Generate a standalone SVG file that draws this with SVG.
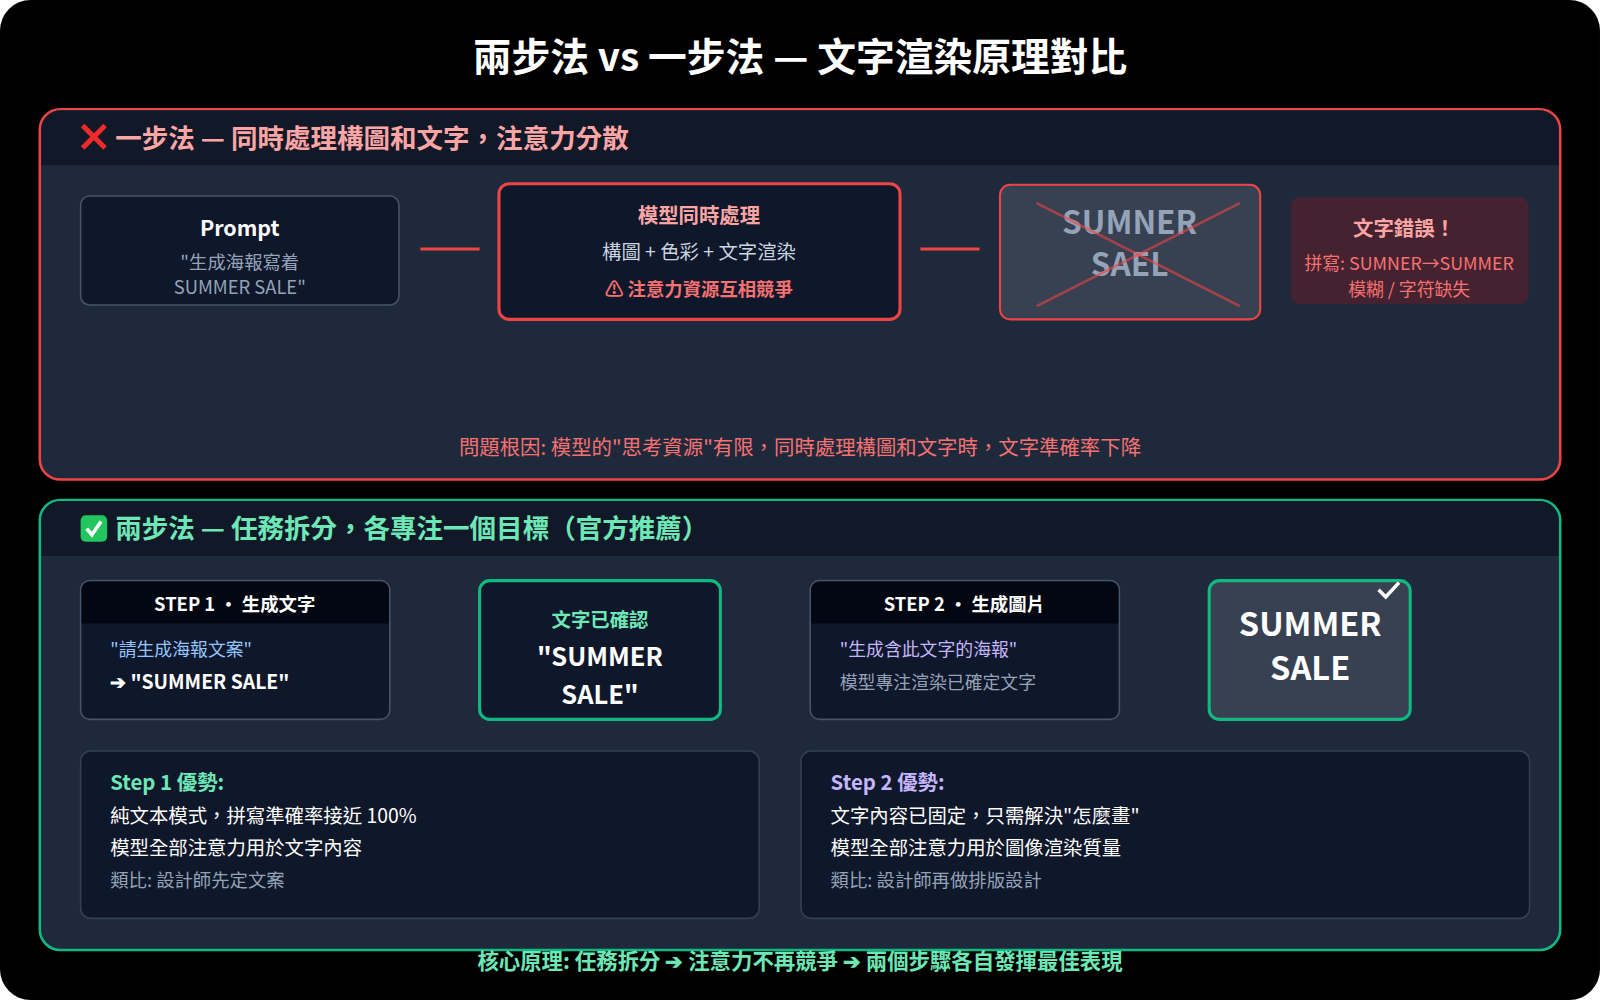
<svg xmlns="http://www.w3.org/2000/svg" width="1600" height="1000" viewBox="0 0 1600 1000">
<style>
text{font-family:"Noto Sans CJK TC","Noto Sans",sans-serif}
.b{font-weight:bold}
.c{text-anchor:middle}
.card{fill:#0f172a;stroke:#475569;stroke-width:1.5}
.g{fill:#94a3b8}
</style>
<rect x="0" y="0" width="1600" height="1000" fill="#fff"/>
<g transform="scale(1.0204)">
<rect x="0" y="0" width="1568" height="980" rx="30" fill="#000"/>
<text x="784" y="70" class="b c" font-size="38" fill="#fff">兩步法 vs 一步法 — 文字渲染原理對比</text>

<g id="panel1">
<rect x="39" y="107" width="1490" height="363" rx="20" fill="#1e293b" stroke="#ef4444" stroke-width="2.5"/>
<path d="M40.5 162 V127 a19 19 0 0 1 19 -19 H1508.5 a19 19 0 0 1 19 19 V162 Z" fill="#111827"/>
<line x1="81" y1="123" x2="103" y2="145" stroke="#ef2a2a" stroke-width="5"/>
<line x1="103" y1="123" x2="81" y2="145" stroke="#ef2a2a" stroke-width="5"/>
<text x="113" y="145" class="b" font-size="26" fill="#fca5a5">一步法 — 同時處理構圖和文字，注意力分散</text>
<text x="784" y="446" class="c" font-size="20" fill="#f87171">問題根因: 模型的"思考資源"有限，同時處理構圖和文字時，文字準確率下降</text>
</g>

<g id="connectors">
<line x1="412" y1="244" x2="470" y2="244" stroke="#ef4444" stroke-width="3"/>
<line x1="902" y1="244" x2="960" y2="244" stroke="#ef4444" stroke-width="3"/>
<line x1="402" y1="636" x2="450" y2="636" stroke="#10b981" stroke-width="3"/>
<line x1="726" y1="636" x2="773" y2="636" stroke="#10b981" stroke-width="3"/>
<line x1="1117" y1="636" x2="1165" y2="636" stroke="#10b981" stroke-width="3"/>
</g>

<g id="prompt">
<rect x="79" y="192" width="312" height="107" rx="9" class="card"/>
<text x="235" y="231" class="b c" font-size="21" fill="#fff">Prompt</text>
<text x="235" y="264" class="c g" font-size="18">"生成海報寫着</text>
<text x="235" y="288" class="c g" font-size="18">SUMMER SALE"</text>
</g>
<g id="model">
<rect x="489" y="180" width="393" height="133" rx="10" fill="#0f172a" stroke="#ef4444" stroke-width="3"/>
<text x="685" y="219" class="b c" font-size="20" fill="#fca5a5">模型同時處理</text>
<text x="685" y="254" class="c" font-size="19" fill="#cbd5e1">構圖 + 色彩 + 文字渲染</text>
<text x="685" y="290" class="b c" font-size="18" fill="#f87171">⚠ 注意力資源互相競爭</text>
</g>
<g id="wrong">
<rect x="980" y="181" width="255" height="132" rx="10" fill="#374151" stroke="#ef4444" stroke-width="2"/>
<text x="1107" y="229" class="b c" font-size="31" fill="#94a3b8">SUMNER</text>
<text x="1107" y="270" class="b c" font-size="31" fill="#94a3b8">SAEL</text>
<line x1="1016" y1="199" x2="1215" y2="300" stroke="#ef4444" stroke-width="2.5" opacity="0.6"/>
<line x1="1016" y1="300" x2="1215" y2="199" stroke="#ef4444" stroke-width="2.5" opacity="0.6"/>
</g>
<g id="error">
<rect x="1265" y="193" width="233" height="105" rx="9" fill="#45222f"/>
<text x="1376" y="231" class="b c" font-size="20" fill="#fca5a5">文字錯誤！</text>
<text x="1381" y="265" class="c" font-size="17.5" fill="#f87171">拼寫: SUMNER→SUMMER</text>
<text x="1381" y="290" class="c" font-size="17.5" fill="#f87171">模糊 / 字符缺失</text>
</g>

<g id="panel2">
<rect x="39" y="490" width="1490" height="441" rx="20" fill="#1e293b" stroke="#10b981" stroke-width="2.5"/>
<path d="M40.5 545 V510 a19 19 0 0 1 19 -19 H1508.5 a19 19 0 0 1 19 19 V545 Z" fill="#111827"/>
<rect x="79" y="505" width="26" height="26" rx="5" fill="#22c55e"/>
<polyline points="85,518 90,524 99,511" fill="none" stroke="#fff" stroke-width="3.5"/>
<text x="113" y="527" class="b" font-size="26" fill="#6ee7b7">兩步法 — 任務拆分，各專注一個目標（官方推薦）</text>
<text x="784" y="950" class="b c" font-size="21" fill="#6ee7b7">核心原理: 任務拆分 ➔ 注意力不再競爭 ➔ 兩個步驟各自發揮最佳表現</text>
</g>

<g id="step1">
<rect x="79" y="569" width="303" height="136" rx="9" class="card"/>
<path d="M80 611 V578 a8 8 0 0 1 8 -8 H373 a8 8 0 0 1 8 8 V611 Z" fill="#030712"/>
<text x="230" y="599" class="b c" font-size="18" fill="#fff">STEP 1 · 生成文字</text>
<text x="108" y="643" font-size="17.5" fill="#93c5fd">"請生成海報文案"</text>
<text x="108" y="675" class="b" font-size="19" fill="#fff">➔ "SUMMER SALE"</text>
</g>
<g id="confirmed">
<rect x="470" y="569" width="236" height="136" rx="10" fill="#0f172a" stroke="#10b981" stroke-width="3"/>
<text x="588" y="614" class="b c" font-size="19" fill="#6ee7b7">文字已確認</text>
<text x="588" y="653" class="b c" font-size="25" fill="#fff">"SUMMER</text>
<text x="588" y="690" class="b c" font-size="25" fill="#fff">SALE"</text>
</g>
<g id="step2">
<rect x="794" y="569" width="303" height="136" rx="9" class="card"/>
<path d="M795 611 V578 a8 8 0 0 1 8 -8 H1088 a8 8 0 0 1 8 8 V611 Z" fill="#030712"/>
<text x="945" y="599" class="b c" font-size="18" fill="#fff">STEP 2 · 生成圖片</text>
<text x="823" y="643" font-size="17.5" fill="#c4b5fd">"生成含此文字的海報"</text>
<text x="823" y="675" font-size="17.5" fill="#94a3b8">模型專注渲染已確定文字</text>
</g>
<g id="final">
<rect x="1185" y="569" width="197" height="136" rx="10" fill="#374151" stroke="#10b981" stroke-width="3"/>
<text x="1284" y="623" class="b c" font-size="32" fill="#fff">SUMMER</text>
<text x="1284" y="666" class="b c" font-size="32" fill="#fff">SALE</text>
<polyline points="1351,578 1358,585 1371,571" fill="none" stroke="#fff" stroke-width="3.5"/>
</g>
<g id="adv1">
<rect x="79" y="736" width="665" height="164" rx="10" fill="#0f172a" stroke="#334155" stroke-width="1.5"/>
<text x="108" y="774" class="b" font-size="20" fill="#6ee7b7">Step 1 優勢:</text>
<text x="108" y="807" font-size="19" fill="#fff">純文本模式，拼寫準確率接近 100%</text>
<text x="108" y="838" font-size="19" fill="#fff">模型全部注意力用於文字內容</text>
<text x="108" y="869" font-size="18" fill="#94a3b8">類比: 設計師先定文案</text>
</g>
<g id="adv2">
<rect x="785" y="736" width="714" height="164" rx="10" fill="#0f172a" stroke="#334155" stroke-width="1.5"/>
<text x="814" y="774" class="b" font-size="20" fill="#c4b5fd">Step 2 優勢:</text>
<text x="814" y="807" font-size="19" fill="#fff">文字內容已固定，只需解決"怎麼畫"</text>
<text x="814" y="838" font-size="19" fill="#fff">模型全部注意力用於圖像渲染質量</text>
<text x="814" y="869" font-size="18" fill="#94a3b8">類比: 設計師再做排版設計</text>
</g>
</g>
</svg>
